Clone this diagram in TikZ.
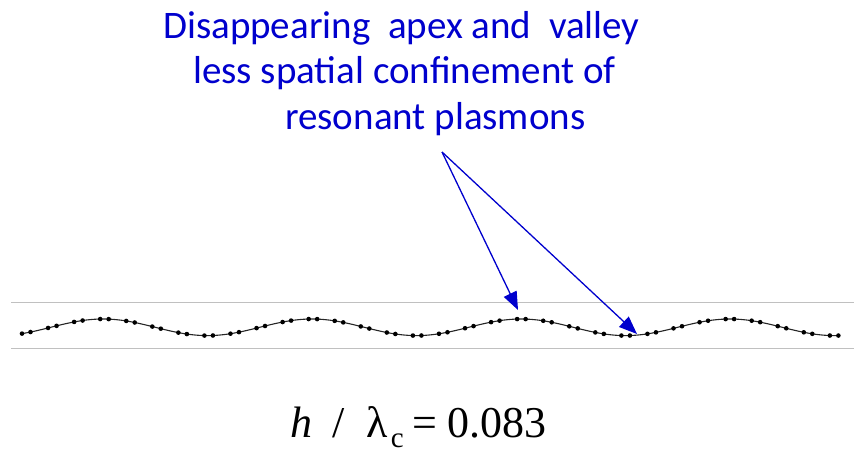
\documentclass[tikz,border=0pt]{standalone}
\usepackage{fontspec}
\setmainfont{Carlito}
\newfontfamily\formfont{Liberation Serif}
\usetikzlibrary{arrows.meta}
\definecolor{labelblue}{RGB}{0,0,205}
\definecolor{guidegray}{RGB}{192,192,192}
\tikzset{
  guide/.style={draw=guidegray, line width=0.9pt},
  wave/.style={draw=black!85, line width=1.1pt},
  pointer/.style={draw=labelblue, line width=1.3pt, -{Triangle[length=18pt,width=14pt]}},
  caption/.style={text=labelblue, font=\fontsize{39}{46}\selectfont, inner sep=0pt, anchor=base west},
  formula/.style={font=\formfont\fontsize{44}{52}\selectfont, inner sep=0pt, anchor=base west}
}
\begin{document}
\begin{tikzpicture}[x=1pt,y=-1pt]
\useasboundingbox (0,0) rectangle (854,454);
% guide lines
\coordinate (g1a) at (11,302.5);
\coordinate (g1b) at (854,302.5);
\coordinate (g2a) at (11,348.5);
\coordinate (g2b) at (854,348.5);
\draw[guide] (g1a) -- (g1b);
\draw[guide] (g2a) -- (g2b);
% wave
\draw[wave] plot[domain=22:838, samples=240, smooth] (\x, {327.3 - 8.3*cos(((\x-103)/209)*360)});
\foreach \k in {0,...,31}{
  \pgfmathsetmacro{\xa}{22+26.06*\k}
  \pgfmathsetmacro{\xb}{30.5+26.06*\k}
  \pgfmathsetmacro{\ya}{327.3 - 8.3*cos(((\xa-103)/209)*360)}
  \pgfmathsetmacro{\yb}{327.3 - 8.3*cos(((\xb-103)/209)*360)}
  \fill[black] (\xa,\ya) circle (2.3pt);
  \fill[black] (\xb,\yb) circle (2.3pt);
}
% text
\node[caption] (l1) at (163,39) {Disappearing\ \ apex and\ \ valley};
\node[caption] (l2) at (193,84) {less spatial confinement of};
\node[caption] (l3) at (285,129.5) {resonant plasmons};
% arrows
\coordinate (src) at (442,152);
\coordinate (apex) at (518,310);
\coordinate (valley) at (637,334);
\draw[pointer] (src) -- (apex);
\draw[pointer] (src) -- (valley);
% formula
\node[formula] (eq) at (290,437) {\itshape h\upshape\hspace{20pt}/\hspace{22pt}λ\hspace{3pt}\raisebox{-10pt}{\fontsize{29}{34}\selectfont c}\hspace{9pt}=\hspace{10pt}0.083};
\end{tikzpicture}
\end{document}
